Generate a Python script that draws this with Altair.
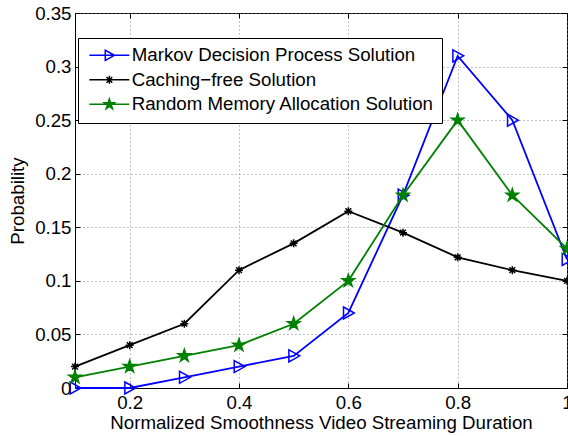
import altair as alt
import pandas as pd

# ---- data ----
x_vals = [0.1, 0.2, 0.3, 0.4, 0.5, 0.6, 0.7, 0.8, 0.9, 1.0]
markov = [0.0, 0.0, 0.01, 0.02, 0.03, 0.07, 0.18, 0.31, 0.25, 0.12]
caching = [0.02, 0.04, 0.06, 0.11, 0.135, 0.165, 0.145, 0.122, 0.11, 0.10]
random_mem = [0.01, 0.02, 0.03, 0.04, 0.06, 0.10, 0.18, 0.25, 0.18, 0.13]
series_names = ["Markov Decision Process Solution",
                "Caching\u2212free Solution",
                "Random Memory Allocation Solution"]
x_ticks = [0.2, 0.4, 0.6, 0.8, 1.0]
y_ticks = [0.0, 0.05, 0.1, 0.15, 0.2, 0.25, 0.3, 0.35]

colors = ["#0000ff", "#000000", "#008000"]
fills = ["transparent", "#000000", "#008000"]

# marker shapes (unit paths)
tri_path = "M-0.8,-1L1,0L-0.8,1Z"
ast_path = "M-1,0L1,0M0,-1L0,1M-0.72,-0.72L0.72,0.72M-0.72,0.72L0.72,-0.72"
star_path = ("M0,-1L0.2245,-0.309L0.951,-0.309L0.3633,0.118L0.588,0.809L0,0.382"
             "L-0.588,0.809L-0.3633,0.118L-0.951,-0.309L-0.2245,-0.309Z")
marker_paths = [tri_path, ast_path, star_path]
marker_sizes = [144, 64, 170]
marker_fill = [False, True, True]


def scaled(path, k):
    out = []
    num = ""
    for ch in path:
        if ch in "-.0123456789":
            num += ch
        else:
            if num:
                out.append(str(round(float(num) * k, 4)))
                num = ""
            out.append(ch)
    if num:
        out.append(str(round(float(num) * k, 4)))
    return "".join(out)


# legend symbols: a 40px line plus the marker (symbol radius 6px)
legend_paths = [
    "M-3.33,0L3.33,0" + scaled(tri_path, 0.85),
    "M-3.33,0L3.33,0" + scaled(ast_path, 0.67),
    "M-3.33,0L3.33,0" + scaled(star_path, 0.9),
]

rows = []
for name, vals in zip(series_names, [markov, caching, random_mem]):
    for xv, yv in zip(x_vals, vals):
        rows.append({"x": xv, "y": yv, "series": name})
df = pd.DataFrame(rows)

W, H = 492, 375
FONT = "Liberation Sans"
FS = 18.7

xscale = alt.Scale(domain=[0.1, 1.0], nice=False, zero=False)
yscale = alt.Scale(domain=[0, 0.35], nice=False, zero=False)

ax_x_main = alt.Axis(orient="bottom", values=x_ticks, format=".1~f", grid=True,
                     gridDash=[1, 3], gridColor="#808080", gridWidth=1,
                     ticks=False, domain=True, domainColor="black", domainWidth=1,
                     labelFont=FONT, labelFontSize=FS, labelColor="black",
                     labelPadding=5, labelFlush=False, labelOverlap=False,
                     title="Normalized Smoothness Video Streaming Duration",
                     titleFont=FONT, titleFontSize=FS, titleFontWeight="normal",
                     titleColor="black", titlePadding=2)
ax_y_main = alt.Axis(orient="left", values=y_ticks, format=".2~f", grid=True,
                     gridDash=[1, 3], gridColor="#808080", gridWidth=1,
                     ticks=False, domain=True, domainColor="black", domainWidth=1,
                     labelFont=FONT, labelFontSize=FS, labelColor="black",
                     labelPadding=4, labelFlush=False, labelOverlap=False,
                     title="Probability", titleFont=FONT, titleFontSize=FS,
                     titleFontWeight="normal", titleColor="black", titlePadding=7)


def tick_axis(orient, values, offset):
    return alt.Axis(orient=orient, values=values, offset=offset, labels=False,
                    domain=False, grid=False, ticks=True, tickSize=5,
                    tickColor="black", tickWidth=1, title=None)


base = alt.Chart(df)

layers = []
for i, name in enumerate(series_names):
    if i == 0:
        axl = (ax_x_main, ax_y_main)
        axp = (tick_axis("top", x_ticks, -H), tick_axis("right", y_ticks, -W))
    elif i == 1:
        axl = (tick_axis("bottom", x_ticks, -H), tick_axis("left", y_ticks, -W))
        axp = (None, None)
    else:
        axl = (None, None)
        axp = (None, None)
    line = base.transform_filter(alt.datum.series == name).mark_line(
        color=colors[i], strokeWidth=1.8
    ).encode(
        x=alt.X("x:Q", scale=xscale, axis=axl[0]),
        y=alt.Y("y:Q", scale=yscale, axis=axl[1]),
    )
    pts = base.transform_filter(alt.datum.series == name).mark_point(
        shape=marker_paths[i], size=marker_sizes[i], stroke=colors[i],
        fill=colors[i] if marker_fill[i] else "transparent", filled=marker_fill[i],
        strokeWidth=1.5, opacity=1
    ).encode(
        x=alt.X("x:Q", scale=xscale, axis=axp[0]),
        y=alt.Y("y:Q", scale=yscale, axis=axp[1]),
    )
    layers += [line, pts]

leg = dict(orient="none", legendX=3, legendY=25, title=None, symbolSize=144,
           symbolStrokeWidth=1.5, symbolOffset=14, labelFont=FONT, labelFontSize=FS,
           labelColor="black", labelOffset=13, labelLimit=500,
           labelExpr="datum.label + '      '", padding=8, rowPadding=4.5,
           strokeColor="black", fillColor="white", zindex=1, symbolOpacity=1)

legend_layer = base.transform_filter("false").mark_point(opacity=1, strokeWidth=1.5).encode(
    x=alt.X("x:Q", scale=xscale, axis=None),
    y=alt.Y("y:Q", scale=yscale, axis=None),
    shape=alt.Shape("series:N", scale=alt.Scale(domain=series_names, range=legend_paths),
                    legend=alt.Legend(**leg)),
    stroke=alt.Stroke("series:N", scale=alt.Scale(domain=series_names, range=colors),
                      legend=alt.Legend(**leg)),
    fill=alt.Fill("series:N", scale=alt.Scale(domain=series_names, range=fills),
                  legend=alt.Legend(**leg)),
)
layers.append(legend_layer)

chart = alt.layer(*layers).resolve_axis(x="independent", y="independent").properties(
    width=W, height=H,
    autosize=alt.AutoSizeParams(type="none"),
    padding={"left": 75, "top": 13, "right": 1, "bottom": 48},
    background="white",
).configure_view(stroke="black", strokeWidth=1)

chart.save("out.html", embed_options={"renderer": "svg", "actions": False})
